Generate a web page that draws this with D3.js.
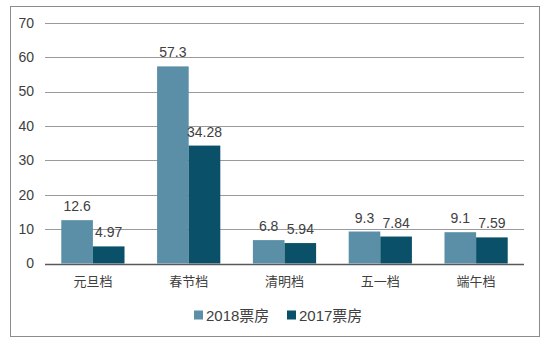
<!DOCTYPE html>
<html>
<head>
<meta charset="utf-8">
<script src="https://cdn.jsdelivr.net/npm/d3@7"></script>
<style>
  html, body { margin: 0; padding: 0; background: #fff; }
  svg { display: block; font-family: "Liberation Sans", Arial, "Noto Sans CJK SC", sans-serif; }
</style>
</head>
<body>
<svg id="chart" width="550" height="342"></svg>
<script>
// Box office per holiday period (亿元)
const categories = ["元旦档", "春节档", "清明档", "五一档", "端午档"];
const seriesNames = ["2018票房", "2017票房"];
const values2018 = [12.6, 57.3, 6.8, 9.3, 9.1];
const values2017 = [4.97, 34.28, 5.94, 7.84, 7.59];
const yTicks = [0, 10, 20, 30, 40, 50, 60, 70];
const colors = ["#5b8fa8", "#0b5069"];

const svg = d3.select("#chart");
const margin = { left: 45, right: 26, top: 23, bottom: 78 };
const W = 550, H = 342;

// outer frame
svg.append("rect")
  .attr("x", 10.5).attr("y", 6.5)
  .attr("width", 529).attr("height", 330)
  .attr("fill", "#fff").attr("stroke", "#8c8c8c").attr("stroke-width", 1);

const x0 = d3.scaleBand()
  .domain(categories)
  .range([margin.left, W - margin.right])
  .paddingInner(0.34).paddingOuter(0.17);
const x1 = d3.scaleBand().domain(seriesNames).range([0, x0.bandwidth()]);
const y = d3.scaleLinear().domain([0, 70]).range([263.5, 22.7]);

// horizontal grid lines
svg.append("g").selectAll("line")
  .data(yTicks.filter(t => t > 0))
  .join("line")
  .attr("x1", margin.left).attr("x2", W - margin.right)
  .attr("y1", d => Math.round(y(d)) + 0.5).attr("y2", d => Math.round(y(d)) + 0.5)
  .attr("stroke", "#9a9a9a").attr("stroke-width", 1);

// y-axis tick labels
const yAxis = d3.axisLeft(y).tickValues(yTicks).tickSize(0).tickPadding(11);
const gy = svg.append("g").attr("transform", `translate(${margin.left},0)`).call(yAxis);
gy.select(".domain").remove();
gy.selectAll("text").attr("font-size", 14).attr("fill", "#404040")
  .attr("font-family", "'Liberation Sans', Arial, sans-serif");

const series = [values2018, values2017];

const groups = svg.append("g").selectAll("g")
  .data(categories)
  .join("g")
  .attr("transform", d => `translate(${x0(d)},0)`);

groups.selectAll("rect")
  .data((d, i) => seriesNames.map((s, k) => ({ s, v: series[k][i], k })))
  .join("rect")
  .attr("x", d => x1(d.s))
  .attr("y", d => y(d.v))
  .attr("width", x1.bandwidth())
  .attr("height", d => y(0) - y(d.v))
  .attr("fill", d => colors[d.k]);

groups.selectAll("text.val")
  .data((d, i) => seriesNames.map((s, k) => ({ s, v: series[k][i], k })))
  .join("text")
  .attr("class", "val")
  .attr("x", d => x1(d.s) + x1.bandwidth() / 2)
  .attr("y", d => y(d.v) - 9)
  .attr("text-anchor", "middle")
  .attr("font-size", 14)
  .attr("fill", "#404040")
  .text(d => d.v);

// baseline axis
const xAxis = d3.axisBottom(x0).tickSize(0).tickPadding(12);
const gx = svg.append("g").attr("transform", `translate(0,${Math.round(y(0)) + 0.5})`).call(xAxis);
gx.select(".domain").attr("stroke", "#595959").attr("stroke-width", 1.5)
  .attr("d", `M${margin.left},0H${W - margin.right}`);
gx.selectAll("text").attr("font-size", 13).attr("fill", "#404040")
  .attr("font-family", "'Noto Sans CJK SC', sans-serif");

// legend
const legendX = [194, 287];
const legend = svg.append("g").selectAll("g")
  .data(seriesNames)
  .join("g")
  .attr("transform", (d, i) => `translate(${legendX[i]},315)`);
legend.append("rect")
  .attr("x", 0).attr("y", -4.5).attr("width", 9).attr("height", 9)
  .attr("fill", (d, i) => colors[i]);
legend.append("text")
  .attr("x", 12).attr("y", 6)
  .attr("font-size", 15).attr("fill", "#404040")
  .text(d => d);
</script>
</body>
</html>
